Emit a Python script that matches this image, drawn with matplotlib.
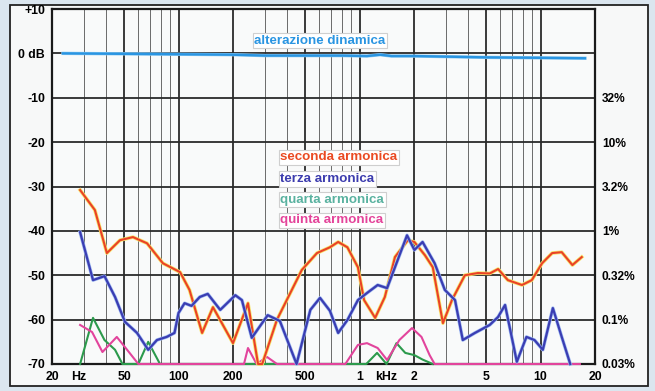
import matplotlib
matplotlib.use("Agg")
import matplotlib.pyplot as plt
import matplotlib.patheffects as pe
from matplotlib.patches import Rectangle
import numpy as np

plt.rcParams['font.family'] = ['Liberation Sans', 'DejaVu Sans']

# ---- data ----
dinamica_f = [23, 50, 100, 200, 300, 500, 800, 1100, 1300, 1500, 2000, 5000, 10000, 17600]
dinamica_db = [0.0, -0.1, -0.2, -0.3, -0.5, -0.5, -0.5, -0.6, -0.3, -0.6, -0.6, -0.9, -1.0, -1.1]

seconda_f = [28.6, 34.5, 40.2, 47.5, 56, 67, 82, 102, 115, 135, 155, 200, 242, 275, 290,
             350, 480, 582, 686, 762, 857, 980, 1060, 1220, 1380, 1570, 1850, 2010, 2300,
             2540, 2890, 3240, 3820, 4510, 5240, 5830, 6600, 7900, 8950, 10200, 11600,
             13100, 15000, 16900]
seconda_db = [-30.8, -35.3, -45.0, -42.1, -41.4, -42.8, -47.3, -49.3, -53.3, -63.0, -57.2,
              -65.3, -56.3, -70.0, -70.0, -60.0, -48.8, -45.0, -43.7, -42.5, -43.7, -48.2,
              -55.6, -59.6, -54.9, -45.9, -42.1, -42.5, -45.5, -48.2, -60.8, -55.6, -50.0,
              -49.5, -49.6, -48.6, -51.1, -52.2, -51.1, -47.3, -45.0, -44.8, -47.7, -45.9]

terza_f = [28.6, 33.7, 39, 44.6, 50.6, 59, 68, 76, 86, 95, 100, 108, 118, 131, 145, 170, 206,
           224, 254, 311, 363, 449, 535, 605, 686, 762, 857, 980, 1100, 1260, 1420,
           1600, 1830, 2010, 2230, 2600, 2960, 3370, 3720, 4340, 5240, 5830, 6370, 7400,
           8360, 9260, 10300, 11700, 13100, 14600]
terza_db = [-40.3, -51.1, -50.2, -54.9, -60.5, -63.0, -66.8, -64.6, -63.9, -63.0, -58.5,
            -56.3, -56.9, -54.9, -54.2, -57.8, -54.5, -55.6, -64.1, -59.0, -60.3, -70.0,
            -57.8, -55.1, -58.0, -63.0, -60.1, -55.6, -54.0, -52.2, -52.9, -47.3, -41.0,
            -44.3, -42.5, -47.3, -53.3, -55.6, -64.6, -63.0, -61.2, -59.4, -56.7, -69.5,
            -63.9, -64.6, -66.8, -57.4, -63.9, -70.0]

quarta_f = [28.6, 33.7, 39, 44.6, 49, 60, 68, 79, 850, 1090, 1250, 1410, 1600, 1790,
            2010, 2230, 2540]
quarta_db = [-70.0, -59.6, -64.6, -66.8, -70.0, -70.0, -65.0, -70.0, -70.0, -70.0, -67.5,
             -70.0, -65.3, -67.5, -68.0, -69.0, -70.0]

quinta_f = [28.6, 33.3, 38, 45.6, 52, 60, 230, 242, 270, 308, 350, 835, 980, 1100, 1260,
            1420, 1660, 1950, 2200, 2440, 2600, 16500]
quinta_db = [-61.2, -62.8, -67.3, -63.9, -66.8, -70.0, -70.0, -66.4, -70.0, -68.4, -70.0,
             -70.0, -65.7, -65.3, -66.4, -69.1, -64.6, -61.9, -63.9, -68.0, -70.0, -70.0]

y_left_ticks = [10, 0, -10, -20, -30, -40, -50, -60, -70]
y_left_labels = ['+10', '0 dB', '-10', '-20', '-30', '-40', '-50', '-60', '-70']
y_right_ticks = [-10, -20, -30, -40, -50, -60, -70]
y_right_labels = ['32%', '10%', '3.2%', '1%', '0.32%', '0.1%', '0.03%']
x_ticks = [20, 28, 50, 100, 200, 500, 1000, 1400, 2000, 5000, 10000, 20000]
x_labels = ['20', 'Hz', '50', '100', '200', '500', '1', 'kHz', '2', '5', '10', '20']

# ---- figure ----
fig = plt.figure(figsize=(6.55, 3.91), dpi=100)
fig.patch.set_facecolor('#dbe6ef')
frame = Rectangle((10/655, 1-386/391), 638/655, 381/391, transform=fig.transFigure,
                  facecolor='#f7f8f8', edgecolor='#222222', linewidth=1.3, zorder=-10)
fig.add_artist(frame)

ax = fig.add_axes([52/655, 1-364/391, 543/655, 355/391], zorder=5)
ax.set_facecolor('#f9fafa')
ax.set_xscale('log')
ax.set_xlim(20, 20000)
ax.set_ylim(-70, 10)

# grid
major = [20, 50, 100, 200, 500, 1000, 2000, 5000, 10000, 20000]
minor = []
for dec in [10, 100, 1000, 10000]:
    for m in range(2, 10):
        v = dec * m
        if 20 < v < 20000 and v not in major:
            minor.append(v)
for v in minor:
    ax.axvline(v, color='#6a6a6a', lw=0.7, zorder=1)
for v in major:
    ax.axvline(v, color='#2a2a2a', lw=1.3, zorder=1)
for v in range(-60, 10, 10):
    ax.axhline(v, color='#2a2a2a', lw=1.3, zorder=1)

for s in ax.spines.values():
    s.set_color('#1a1a1a')
    s.set_linewidth(1.6)

ax.set_yticks(y_left_ticks)
ax.set_yticklabels(y_left_labels, fontsize=8.8, fontweight='bold')
ax.set_xticks(x_ticks)
ax.set_xticklabels(x_labels, fontsize=8.8, fontweight='bold')
ax.xaxis.set_minor_locator(matplotlib.ticker.NullLocator())
ax.tick_params(axis='both', length=0, pad=5)

ax2 = ax.twinx()
ax2.set_zorder(6)
ax2.patch.set_visible(False)
ax2.set_ylim(-70, 10)
ax2.set_yticks(y_right_ticks)
ax2.set_yticklabels(y_right_labels, fontsize=8.6, fontweight='bold')
ax2.tick_params(axis='y', length=0, pad=5)
for s in ax2.spines.values():
    s.set_visible(False)

# curves
ax.plot(dinamica_f, dinamica_db, color='#2a95e2', lw=1.7, zorder=5,
        path_effects=[pe.Stroke(linewidth=2.4, foreground='#92ccf2'), pe.Normal()])
ax.plot(quarta_f, quarta_db, color='#2c9a4c', lw=1.5, zorder=4, clip_on=False,
        solid_joinstyle='round')
ax.plot(quinta_f, quinta_db, color='#e2449c', lw=1.5, zorder=4.5, clip_on=False,
        solid_joinstyle='round')
ax.plot(seconda_f, seconda_db, color='#ea4127', lw=1.5, zorder=5, clip_on=False,
        solid_joinstyle='round',
        path_effects=[pe.Stroke(linewidth=2.6, foreground='#f7e46a'), pe.Normal()])
ax.plot(terza_f, terza_db, color='#3b3db2', lw=1.6, zorder=6, clip_on=False,
        solid_joinstyle='round',
        path_effects=[pe.Stroke(linewidth=2.5, foreground='#9cb8f2'), pe.Normal()])

box = dict(boxstyle='square,pad=0.12', facecolor='white', edgecolor='#cfcfcf', linewidth=0.8)
fs = 9.6
ax.text(262, 2.9, 'alterazione dinamica', color='#2a95e2', fontsize=fs, fontweight='bold',
        va='center', ha='left', bbox=box, zorder=7)
ax.text(365, -23.4, 'seconda armonica', color='#ea4a22', fontsize=fs, fontweight='bold',
        va='center', ha='left', bbox=box, zorder=7)
ax.text(365, -28.3, 'terza armonica', color='#3c3cae', fontsize=fs, fontweight='bold',
        va='center', ha='left', bbox=box, zorder=7)
ax.text(365, -33.0, 'quarta armonica', color='#5ab2a0', fontsize=fs, fontweight='bold',
        va='center', ha='left', bbox=box, zorder=7)
ax.text(365, -37.6, 'quinta armonica', color='#e4449a', fontsize=fs, fontweight='bold',
        va='center', ha='left', bbox=box, zorder=7)

fig.savefig('out.png', dpi=100, facecolor=fig.get_facecolor())
